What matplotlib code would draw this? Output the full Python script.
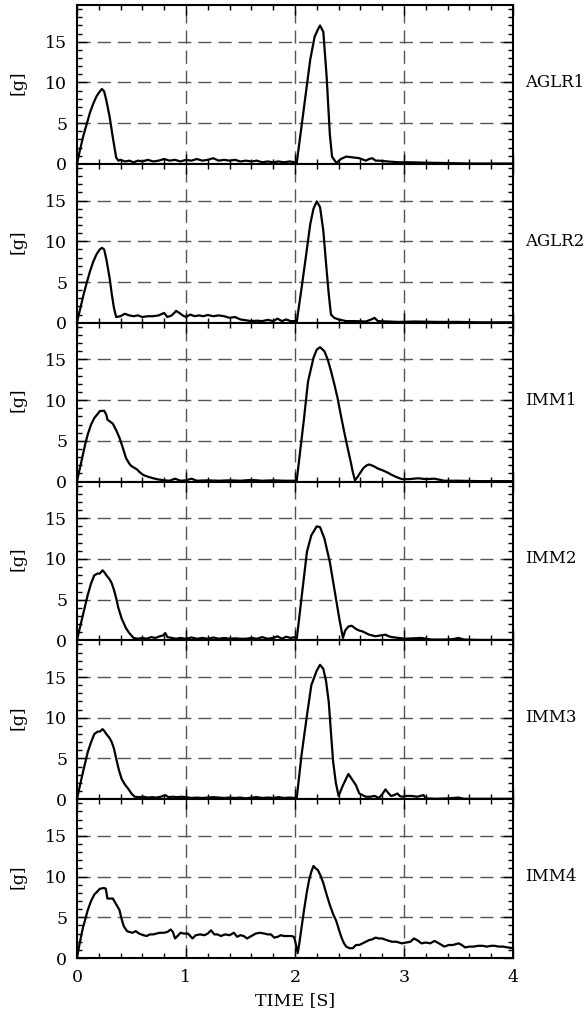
import matplotlib
matplotlib.use("Agg")
import matplotlib.pyplot as plt
import matplotlib.transforms as mtransforms
from matplotlib.ticker import MultipleLocator

plt.rcParams['font.family'] = ['DejaVu Serif']

# ---- data (time in s, acceleration in g) ----
labels = ["AGLR1", "AGLR2", "IMM1", "IMM2", "IMM3", "IMM4"]

t_aglr1 = [0, 0.03, 0.06, 0.09, 0.12, 0.15, 0.18, 0.21, 0.23, 0.25, 0.27, 0.30, 0.33, 0.36, 0.38,
           0.40, 0.44, 0.48, 0.52, 0.56, 0.60, 0.65, 0.70, 0.75, 0.80, 0.85, 0.90, 0.95, 1.00, 1.05,
           1.10, 1.15, 1.20, 1.25, 1.30, 1.35, 1.40, 1.45, 1.50, 1.55, 1.60, 1.65, 1.70, 1.75, 1.80,
           1.85, 1.90, 1.95, 2.00, 2.015, 2.06, 2.10, 2.14, 2.18, 2.21, 2.23, 2.26, 2.29, 2.32, 2.34,
           2.36, 2.38, 2.42, 2.47, 2.53, 2.59, 2.65, 2.68, 2.71, 2.74, 2.77, 2.85, 2.95, 3.05, 3.2,
           3.4, 3.6, 3.8, 4.0]
g_aglr1 = [0, 1.8, 3.5, 4.9, 6.3, 7.4, 8.3, 8.9, 9.2, 8.9, 7.8, 5.8, 3.2, 0.8, 0.4,
           0.5, 0.3, 0.4, 0.2, 0.4, 0.3, 0.5, 0.3, 0.4, 0.6, 0.4, 0.5, 0.3, 0.5, 0.4,
           0.6, 0.4, 0.5, 0.7, 0.4, 0.5, 0.4, 0.5, 0.3, 0.4, 0.3, 0.4, 0.2, 0.3, 0.2,
           0.3, 0.2, 0.3, 0.2, 0.0, 4.6, 8.7, 12.8, 15.6, 16.5, 17.0, 16.2, 10.8, 3.6, 0.9,
           0.5, 0.1, 0.6, 0.9, 0.8, 0.7, 0.4, 0.6, 0.7, 0.4, 0.4, 0.3, 0.2, 0.2, 0.15,
           0.1, 0.05, 0.05, 0.05]

t_aglr2 = [0, 0.03, 0.06, 0.09, 0.12, 0.15, 0.18, 0.21, 0.23, 0.25, 0.27, 0.30, 0.32, 0.34, 0.36,
           0.40, 0.44, 0.48, 0.52, 0.56, 0.60, 0.65, 0.70, 0.75, 0.80, 0.83, 0.87, 0.91, 0.94, 0.97,
           1.00, 1.04, 1.08, 1.12, 1.16, 1.20, 1.25, 1.30, 1.35, 1.40, 1.45, 1.50, 1.55, 1.60, 1.65,
           1.70, 1.75, 1.80, 1.84, 1.88, 1.92, 1.96, 2.00, 2.015, 2.06, 2.10, 2.14, 2.17, 2.20, 2.23,
           2.26, 2.29, 2.31, 2.33, 2.36, 2.40, 2.47, 2.55, 2.65, 2.70, 2.73, 2.76, 2.85, 2.95, 3.1,
           3.3, 3.5, 3.7, 4.0]
g_aglr2 = [0, 1.7, 3.4, 4.9, 6.3, 7.5, 8.4, 9.0, 9.2, 9.0, 7.8, 5.5, 3.5, 1.8, 0.7,
           0.8, 1.1, 0.9, 0.8, 0.9, 0.7, 0.8, 0.8, 0.9, 1.2, 0.7, 0.9, 1.45, 1.2, 0.9,
           0.7, 1.0, 0.8, 0.9, 0.8, 0.95, 0.8, 0.9, 0.8, 0.6, 0.7, 0.4, 0.3, 0.2, 0.25,
           0.2, 0.35, 0.2, 0.5, 0.2, 0.4, 0.2, 0.2, 0.0, 4.2, 8.1, 12.1, 14.0, 14.9, 14.2,
           11.3, 6.5, 3.5, 1.0, 0.6, 0.4, 0.2, 0.2, 0.15, 0.4, 0.6, 0.2, 0.15, 0.1, 0.15,
           0.1, 0.1, 0.05, 0.05]

t_imm1 = [0, 0.03, 0.055, 0.08, 0.10, 0.13, 0.16, 0.19, 0.21, 0.25, 0.27, 0.28, 0.31, 0.33, 0.36,
          0.39, 0.42, 0.45, 0.48, 0.50, 0.55, 0.58, 0.61, 0.65, 0.70, 0.75, 0.80, 0.85, 0.90, 0.95,
          1.00, 1.05, 1.10, 1.2, 1.3, 1.4, 1.5, 1.6, 1.7, 1.8, 1.9, 2.0, 2.015, 2.05, 2.08,
          2.12, 2.17, 2.20, 2.23, 2.27, 2.30, 2.33, 2.36, 2.39, 2.42, 2.45, 2.48, 2.51, 2.53, 2.55,
          2.57, 2.59, 2.61, 2.63, 2.66, 2.68, 2.70, 2.72, 2.76, 2.80, 2.85, 2.89, 2.94, 2.98, 3.05,
          3.13, 3.2, 3.28, 3.37, 3.5, 3.7, 4.0]
g_imm1 = [0, 1.8, 3.3, 4.8, 5.8, 7.0, 7.8, 8.3, 8.65, 8.7, 8.2, 7.6, 7.3, 7.1, 6.3,
          5.4, 4.2, 2.9, 2.2, 1.9, 1.5, 1.1, 0.8, 0.6, 0.4, 0.25, 0.15, 0.1, 0.35, 0.1,
          0.15, 0.35, 0.1, 0.15, 0.1, 0.15, 0.1, 0.2, 0.1, 0.15, 0.1, 0.1, 0.0, 4.0, 7.4,
          12.3, 15.2, 16.2, 16.5, 16.0, 15.0, 13.6, 12.0, 10.3, 8.2, 6.2, 4.3, 2.5, 1.2, 0.15,
          0.5, 0.9, 1.3, 1.7, 2.0, 2.1, 2.0, 1.9, 1.6, 1.4, 1.1, 0.8, 0.5, 0.3, 0.3,
          0.4, 0.3, 0.35, 0.1, 0.1, 0.05, 0.05]

t_imm2 = [0, 0.03, 0.055, 0.08, 0.10, 0.13, 0.16, 0.19, 0.21, 0.235, 0.25, 0.27, 0.30, 0.32, 0.34,
          0.36, 0.38, 0.41, 0.43, 0.45, 0.48, 0.52, 0.56, 0.60, 0.64, 0.68, 0.72, 0.76, 0.79, 0.81,
          0.83, 0.87, 0.91, 0.95, 1.00, 1.05, 1.10, 1.15, 1.20, 1.25, 1.30, 1.35, 1.40, 1.45, 1.50,
          1.55, 1.60, 1.65, 1.70, 1.75, 1.80, 1.84, 1.88, 1.92, 1.96, 2.00, 2.015, 2.06, 2.11, 2.15,
          2.20, 2.23, 2.27, 2.32, 2.35, 2.38, 2.41, 2.44, 2.46, 2.49, 2.52, 2.56, 2.59, 2.62, 2.65,
          2.68, 2.71, 2.74, 2.78, 2.83, 2.86, 2.89, 2.95, 3.01, 3.08, 3.16, 3.25, 3.37, 3.45, 3.50,
          3.55, 3.7, 4.0]
g_imm2 = [0, 1.7, 3.1, 4.5, 5.6, 7.0, 8.0, 8.2, 8.2, 8.6, 8.4, 8.0, 7.5, 7.0, 6.2,
          5.2, 4.0, 2.7, 2.1, 1.5, 0.9, 0.3, 0.2, 0.3, 0.2, 0.4, 0.3, 0.5, 0.6, 0.9,
          0.4, 0.3, 0.2, 0.3, 0.2, 0.35, 0.2, 0.3, 0.2, 0.35, 0.2, 0.3, 0.2, 0.25, 0.2,
          0.2, 0.3, 0.2, 0.4, 0.2, 0.3, 0.5, 0.2, 0.45, 0.3, 0.4, 0.0, 5.2, 10.9, 12.9,
          14.0, 13.9, 12.5, 9.6, 7.2, 4.8, 2.4, 0.3, 1.2, 1.7, 1.8, 1.4, 1.2, 1.1, 0.9,
          0.7, 0.6, 0.5, 0.6, 0.7, 0.5, 0.4, 0.3, 0.2, 0.25, 0.3, 0.1, 0.1, 0.15, 0.3,
          0.1, 0.05, 0.05]

t_imm3 = [0, 0.03, 0.055, 0.08, 0.10, 0.13, 0.16, 0.19, 0.21, 0.235, 0.25, 0.27, 0.30, 0.32, 0.34,
          0.36, 0.385, 0.41, 0.44, 0.47, 0.50, 0.53, 0.57, 0.61, 0.65, 0.69, 0.73, 0.77, 0.81, 0.84,
          0.88, 0.92, 0.96, 1.00, 1.05, 1.10, 1.15, 1.20, 1.25, 1.30, 1.35, 1.40, 1.45, 1.50, 1.55,
          1.60, 1.65, 1.70, 1.75, 1.80, 1.85, 1.90, 1.95, 2.00, 2.015, 2.06, 2.11, 2.15, 2.20, 2.23,
          2.26, 2.285, 2.31, 2.33, 2.35, 2.375, 2.40, 2.44, 2.49, 2.52, 2.54, 2.56, 2.59, 2.62, 2.65,
          2.69, 2.73, 2.77, 2.80, 2.83, 2.86, 2.88, 2.91, 2.94, 2.96, 2.98, 3.02, 3.07, 3.12, 3.18,
          3.20, 3.3, 3.4, 3.5, 3.55, 3.7, 4.0]
g_imm3 = [0, 1.8, 3.3, 4.7, 5.8, 7.0, 8.0, 8.3, 8.3, 8.6, 8.4, 8.0, 7.5, 7.0, 6.2,
          5.0, 3.6, 2.5, 1.8, 1.3, 0.7, 0.3, 0.25, 0.3, 0.2, 0.25, 0.2, 0.3, 0.5, 0.25,
          0.3, 0.25, 0.3, 0.25, 0.15, 0.2, 0.15, 0.2, 0.25, 0.2, 0.15, 0.2, 0.15, 0.2, 0.1,
          0.2, 0.25, 0.15, 0.2, 0.15, 0.25, 0.15, 0.2, 0.15, 0.0, 5.4, 10.3, 14.0, 15.8, 16.5,
          16.0, 14.5, 11.9, 8.2, 4.6, 2.0, 0.4, 1.7, 3.1, 2.5, 2.1, 1.7, 0.7, 0.5, 0.3,
          0.3, 0.4, 0.15, 0.6, 1.2, 0.7, 0.4, 0.5, 0.7, 0.4, 0.3, 0.4, 0.4, 0.3, 0.5,
          0.1, 0.05, 0.1, 0.2, 0.05, 0.05, 0.05]

t_imm4 = [0, 0.03, 0.055, 0.08, 0.10, 0.13, 0.16, 0.19, 0.21, 0.25, 0.265, 0.28, 0.30, 0.33, 0.36,
          0.39, 0.41, 0.43, 0.46, 0.48, 0.51, 0.54, 0.57, 0.61, 0.64, 0.67, 0.70, 0.73, 0.76, 0.80,
          0.83, 0.86, 0.88, 0.90, 0.93, 0.95, 0.98, 1.02, 1.06, 1.09, 1.13, 1.17, 1.20, 1.23, 1.26,
          1.29, 1.32, 1.36, 1.40, 1.44, 1.47, 1.50, 1.53, 1.56, 1.60, 1.64, 1.68, 1.72, 1.75, 1.78,
          1.81, 1.84, 1.87, 1.90, 1.94, 1.97, 1.99, 2.00, 2.025, 2.04, 2.06, 2.08, 2.11, 2.13, 2.15,
          2.17, 2.19, 2.21, 2.235, 2.26, 2.29, 2.32, 2.35, 2.38, 2.405, 2.43, 2.45, 2.47, 2.50, 2.53,
          2.56, 2.59, 2.62, 2.65, 2.68, 2.71, 2.74, 2.77, 2.80, 2.84, 2.89, 2.93, 2.98, 3.02, 3.06,
          3.09, 3.12, 3.16, 3.20, 3.24, 3.28, 3.32, 3.37, 3.41, 3.45, 3.50, 3.53, 3.56, 3.60, 3.64,
          3.68, 3.72, 3.76, 3.80, 3.83, 3.87, 3.91, 3.95, 4.00]
g_imm4 = [0, 2.1, 3.7, 4.9, 5.9, 7.0, 7.8, 8.2, 8.5, 8.6, 8.5, 7.3, 7.3, 7.3, 6.6,
          5.9, 4.8, 3.9, 3.3, 3.2, 3.1, 3.3, 3.0, 2.8, 2.7, 2.9, 2.9, 3.0, 3.1, 3.1,
          3.2, 3.5, 3.2, 2.4, 2.8, 3.1, 3.0, 3.0, 2.4, 2.8, 2.9, 2.8, 3.0, 3.4, 2.9,
          2.9, 2.7, 2.9, 2.8, 3.1, 2.6, 2.8, 2.7, 2.4, 2.7, 3.0, 3.1, 3.0, 2.9, 2.9,
          2.5, 2.6, 2.8, 2.7, 2.7, 2.7, 2.6, 2.2, 0.6, 1.8, 3.7, 5.6, 8.2, 9.6, 10.6,
          11.3, 11.0, 10.8, 10.1, 9.2, 7.8, 6.5, 5.4, 4.5, 3.4, 2.4, 1.8, 1.4, 1.2, 1.2,
          1.6, 1.6, 1.8, 2.0, 2.2, 2.3, 2.5, 2.4, 2.4, 2.2, 2.0, 2.0, 1.8, 1.9, 2.0,
          2.4, 2.2, 1.8, 1.9, 1.8, 2.1, 1.8, 1.4, 1.6, 1.6, 1.8, 1.6, 1.3, 1.4, 1.4,
          1.5, 1.5, 1.4, 1.5, 1.5, 1.4, 1.4, 1.3, 1.2]

series_t = [t_aglr1, t_aglr2, t_imm1, t_imm2, t_imm3, t_imm4]
series_g = [g_aglr1, g_aglr2, g_imm1, g_imm2, g_imm3, g_imm4]

x_ticks = [0, 1, 2, 3, 4]
y_ticks = [0, 5, 10, 15]

# ---- figure ----
fig, axes = plt.subplots(6, 1, figsize=(5.87, 10.17), dpi=100, sharex=True)
fig.subplots_adjust(left=0.131, right=0.874, top=0.995, bottom=0.058, hspace=0)

grid_kw = dict(color='#555555', linewidth=1.0, dashes=(9.5, 5), zorder=1)

for ax, t, g, lab in zip(axes, series_t, series_g, labels):
    ax.set_xlim(0, 4)
    ax.set_ylim(0, 19.5)
    for xv in [1, 2, 3]:
        ax.axvline(xv, **grid_kw)
    for yv in [5, 10, 15]:
        ax.axhline(yv, **grid_kw)
    ax.plot(t, g, color='black', linewidth=1.6, zorder=3)

    ax.set_xticks(x_ticks)
    ax.set_yticks(y_ticks)
    ax.xaxis.set_minor_locator(MultipleLocator(0.2))
    ax.yaxis.set_minor_locator(MultipleLocator(1))
    ax.tick_params(which='both', direction='in', top=True, right=True, width=1.0,
                   labelsize=12.5)
    ax.tick_params(which='major', length=7.5)
    ax.tick_params(which='minor', length=3.5)
    ax.tick_params(axis='y', pad=7)
    ax.tick_params(axis='x', pad=8)
    for sp in ax.spines.values():
        sp.set_linewidth(1.5)

    ax.set_ylabel("[g]", fontsize=12.5)
    ax.yaxis.set_label_coords(-0.115, 10 / 19.5)

    trans = mtransforms.blended_transform_factory(ax.transAxes, ax.transData)
    ax.text(1.028, 10, lab, transform=trans, ha='left', va='center', fontsize=12)

axes[-1].set_xlabel("TIME [S]", fontsize=12.5, labelpad=4)

fig.savefig("out.png", dpi=100)
